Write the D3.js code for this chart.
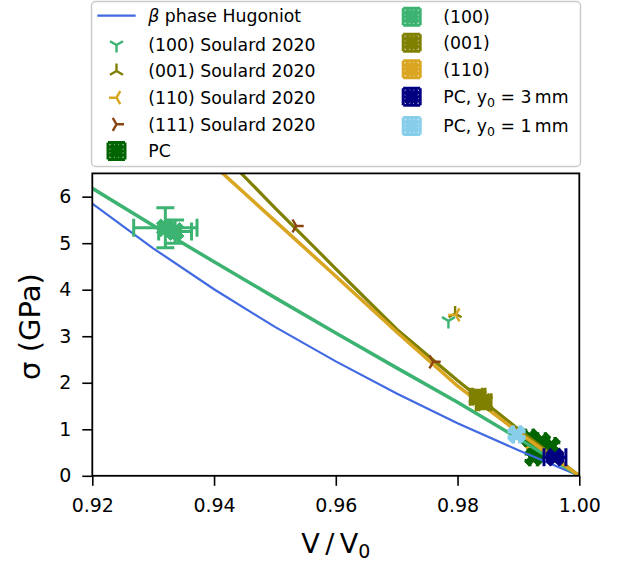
<!DOCTYPE html>
<html><head><meta charset="utf-8">
<script src="https://cdn.jsdelivr.net/npm/d3@7"></script>
<style>body{margin:0;background:#fff}svg{display:block;font-family:"DejaVu Sans",sans-serif}</style>
</head><body><svg id="c" width="630" height="565"></svg>
<script>
// ---------- data ----------
const xTicks = [0.92, 0.94, 0.96, 0.98, 1.00];
const yTicks = [0, 1, 2, 3, 4, 5, 6];

// Hugoniot curves (V/V0, sigma GPa)
const betaV     = [0.92, 0.93, 0.94, 0.95, 0.96, 0.97, 0.98, 0.99, 1.00];
const betaSigma = [5.85, 4.89, 4.01, 3.20, 2.46, 1.77, 1.13, 0.55, 0.00];
const fit100V     = [0.92, 0.93, 0.94, 0.95, 0.96, 0.97, 0.98, 0.99, 1.00];
const fit100Sigma = [6.18, 5.38, 4.60, 3.83, 3.07, 2.32, 1.58, 0.80, 0.00];
const fit001V     = [0.94, 0.95, 0.96, 0.97, 0.98, 0.99, 1.00];
const fit001Sigma = [7.10, 5.76, 4.45, 3.15, 2.05, 1.00, 0.00];
const fit110V     = [0.94, 0.95, 0.96, 0.97, 0.98, 0.99, 1.00];
const fit110Sigma = [6.67, 5.48, 4.29, 3.09, 1.93, 0.93, 0.00];

// Soulard 2020 points
const soulard100 = [[0.9785, 3.33]];
const soulard001 = [[0.9796, 3.49]];
const soulard110 = [[0.9797, 3.46]];
const soulard111 = [[0.9535, 5.37], [0.9760, 2.45]];

// simulation points with error bars: [V, sigma, xerr, yerr]
const pcPts   = [[0.9918, 0.82, 0.0006, 0.07], [0.9928, 0.62, 0.0006, 0.07], [0.9938, 0.74, 0.0006, 0.07],
                 [0.9925, 0.40, 0.0006, 0.07], [0.9945, 0.52, 0.0006, 0.07], [0.9954, 0.64, 0.0006, 0.07]];
const pts100  = [[0.9320, 5.33, 0.0052, 0.43], [0.9336, 5.25, 0.0027, 0.25]];
const pts001  = [[0.9833, 1.70, 0.0012, 0.14], [0.9843, 1.58, 0.0012, 0.14]];
const pts110  = [[0.9925, 0.72, 0.0006, 0.06], [0.9935, 0.55, 0.0006, 0.06]];
const ptsPC3  = [[0.9960, 0.40, 0.0018, 0.05]];
const ptsPC1  = [[0.9897, 0.89, 0.0005, 0.05]];

// ---------- layout ----------
const svg = d3.select("#c");
const L = 92.3, R = 579.3, T = 173.4, B = 475.8;
const x = d3.scaleLinear().domain([0.92, 1.00]).range([L, R]);
const y = d3.scaleLinear().domain([0, 6.5]).range([B, T]);

const C = {beta: "#4169e1", g100: "#3cb371", o001: "#808000", y110: "#daa520",
           b111: "#8b4513", pc: "#006400", pc3: "#000080", pc1: "#87ceeb"};

svg.append("defs").append("clipPath").attr("id", "clip")
  .append("rect").attr("x", L).attr("y", T).attr("width", R - L).attr("height", B - T);

const plot = svg.append("g");
const line = d3.line().x(d => x(d[0])).y(d => y(d[1]));
function curve(vs, ss, color, w) {
  plot.append("path").attr("clip-path", "url(#clip)")
    .attr("d", line(vs.map((v, i) => [v, ss[i]])))
    .attr("fill", "none").attr("stroke", color).attr("stroke-width", w);
}

// tri markers
function tri(g, cx, cy, type, color, r) {
  const dirs = {down: [[0, 1], [0.866, -0.5], [-0.866, -0.5]],
                up: [[0, -1], [0.866, 0.5], [-0.866, 0.5]],
                left: [[-1, 0], [0.5, -0.866], [0.5, 0.866]],
                right: [[1, 0], [-0.5, -0.866], [-0.5, 0.866]]}[type];
  g.append("path").attr("d", dirs.map(d => `M${cx},${cy}L${cx + d[0] * r},${cy + d[1] * r}`).join(""))
    .attr("stroke", color).attr("stroke-width", 2.4).attr("fill", "none");
}

// filled X marker path (matplotlib 'X')
function xPath(cx, cy, s) {
  const base = [[-1, -3], [1, -3], [1, -1], [3, -1], [3, 1], [1, 1], [1, 3], [-1, 3], [-1, 1], [-3, 1], [-3, -1], [-1, -1]];
  const c = Math.SQRT1_2;
  return "M" + base.map(([a, b]) => {
    const px = (a * c - b * c) * s / 6, py = (a * c + b * c) * s / 6;
    return `${cx + px},${cy + py}`;
  }).join("L") + "Z";
}
function errMark(g, cx, cy, hx, hy, color, cap, ms) {
  const w = 3;
  g.append("path").attr("d",
      `M${cx - hx},${cy}L${cx + hx},${cy}M${cx},${cy - hy}L${cx},${cy + hy}` +
      `M${cx - hx},${cy - cap}L${cx - hx},${cy + cap}M${cx + hx},${cy - cap}L${cx + hx},${cy + cap}` +
      `M${cx - cap},${cy - hy}L${cx + cap},${cy - hy}M${cx - cap},${cy + hy}L${cx + cap},${cy + hy}`)
    .attr("stroke", color).attr("stroke-width", w).attr("fill", "none");
  g.append("path").attr("d", xPath(cx, cy, ms)).attr("fill", color).attr("stroke", color).attr("stroke-width", 1);
}
function errSet(pts, color) {
  pts.forEach(p => {
    const cx = x(p[0]), cy = y(p[1]);
    errMark(plot, cx, cy, x(p[0] + p[2]) - cx, cy - y(p[1] + p[3]), color, 9, 19);
  });
}
errSet(pts110, C.y110);
errSet(pcPts, C.pc);
curve(betaV, betaSigma, C.beta, 2.2);
curve(fit100V, fit100Sigma, C.g100, 3.5);
curve(fit001V, fit001Sigma, C.o001, 3.2);
curve(fit110V, fit110Sigma, C.y110, 3.5);
errSet(ptsPC3, C.pc3);
errSet(pts100, C.g100);
errSet(pts001, C.o001);
errSet(ptsPC1, C.pc1);
soulard100.forEach(p => tri(plot, x(p[0]), y(p[1]), "down", C.g100, 7.5));
soulard001.forEach(p => tri(plot, x(p[0]), y(p[1]), "up", C.o001, 7.5));
soulard110.forEach(p => tri(plot, x(p[0]), y(p[1]), "left", C.y110, 7.5));
soulard111.forEach(p => tri(plot, x(p[0]), y(p[1]), "right", C.b111, 7.5));

// ---------- axes ----------
const fs = 19;
const xa = svg.append("g").attr("transform", `translate(0,${B})`)
  .call(d3.axisBottom(x).tickValues(xTicks).tickFormat(d3.format(".2f")).tickSize(10).tickPadding(13));
const ya = svg.append("g").attr("transform", `translate(${L},0)`)
  .call(d3.axisLeft(y).tickValues(yTicks).tickFormat(d3.format("d")).tickSize(10).tickPadding(11));
[xa, ya].forEach(a => {
  a.select(".domain").remove();
  a.selectAll("line").attr("stroke", "#000").attr("stroke-width", 1.6);
  a.selectAll("text").attr("font-size", fs).attr("fill", "#000").attr("font-family", "DejaVu Sans");
});
svg.append("rect").attr("x", L).attr("y", T).attr("width", R - L).attr("height", B - T)
  .attr("fill", "none").attr("stroke", "#000").attr("stroke-width", 1.8);

// axis labels
const xl = svg.append("text").attr("x", (L + R) / 2).attr("y", 553).attr("text-anchor", "middle")
  .attr("font-size", 27);
xl.append("tspan").text("V\u2009/\u2009V");
xl.append("tspan").text("0").attr("font-size", 19).attr("dy", 5);
svg.append("text").attr("transform", `translate(40,${(T + B) / 2 + 2}) rotate(-90)`)
  .attr("text-anchor", "middle").attr("font-size", 29).text("σ (GPa)");

// ---------- legend ----------
const lg = svg.append("g");
lg.append("rect").attr("x", 91.5).attr("y", 1.5).attr("width", 489).attr("height", 165).attr("rx", 4)
  .attr("fill", "#fff").attr("fill-opacity", 0.8).attr("stroke", "#cccccc").attr("stroke-width", 1.5);

function ltext(tx, cy, parts) {
  const t = lg.append("text").attr("x", tx).attr("y", cy + 6.3).attr("font-size", 17.3);
  parts.forEach(p => {
    const s = t.append("tspan").text(p.t);
    if (p.it) s.attr("font-style", "italic");
    if (p.sub) s.attr("font-size", 12.5).attr("dy", 4);
    if (p.up) s.attr("dy", -4);
  });
}
const hx1 = 116.5, tx1 = 148.3, hx2 = 411.7, tx2 = 443.3;
// column 1
lg.append("line").attr("x1", 97.3).attr("x2", 135.7).attr("y1", 15.7).attr("y2", 15.7)
  .attr("stroke", C.beta).attr("stroke-width", 2.2);
ltext(tx1, 15.7, [{t: "β", it: true}, {t: " phase Hugoniot"}]);
const soulardLeg = [["down", C.g100, "(100) Soulard 2020", 45],
                    ["up", C.o001, "(001) Soulard 2020", 71],
                    ["left", C.y110, "(110) Soulard 2020", 97.7],
                    ["right", C.b111, "(111) Soulard 2020", 124.3]];
soulardLeg.forEach(d => { tri(lg, hx1, d[3], d[0], d[1], 7.5); ltext(tx1, d[3], [{t: d[2]}]); });
errMark(lg, hx1, 151, 8.5, 8.5, C.pc, 8.5, 17);
ltext(tx1, 151, [{t: "PC"}]);
// column 2
const col2 = [[C.g100, 16.7, [{t: "(100)"}]], [C.o001, 42.7, [{t: "(001)"}]], [C.y110, 69.3, [{t: "(110)"}]],
              [C.pc3, 96.7, [{t: "PC, y"}, {t: "0", sub: true}, {t: " = 3\u2009mm", up: true}]],
              [C.pc1, 126, [{t: "PC, y"}, {t: "0", sub: true}, {t: " = 1\u2009mm", up: true}]]];
col2.forEach(d => { errMark(lg, hx2, d[1], 8.5, 8.5, d[0], 8.5, 17); ltext(tx2, d[1], d[2]); });
</script></body></html>
